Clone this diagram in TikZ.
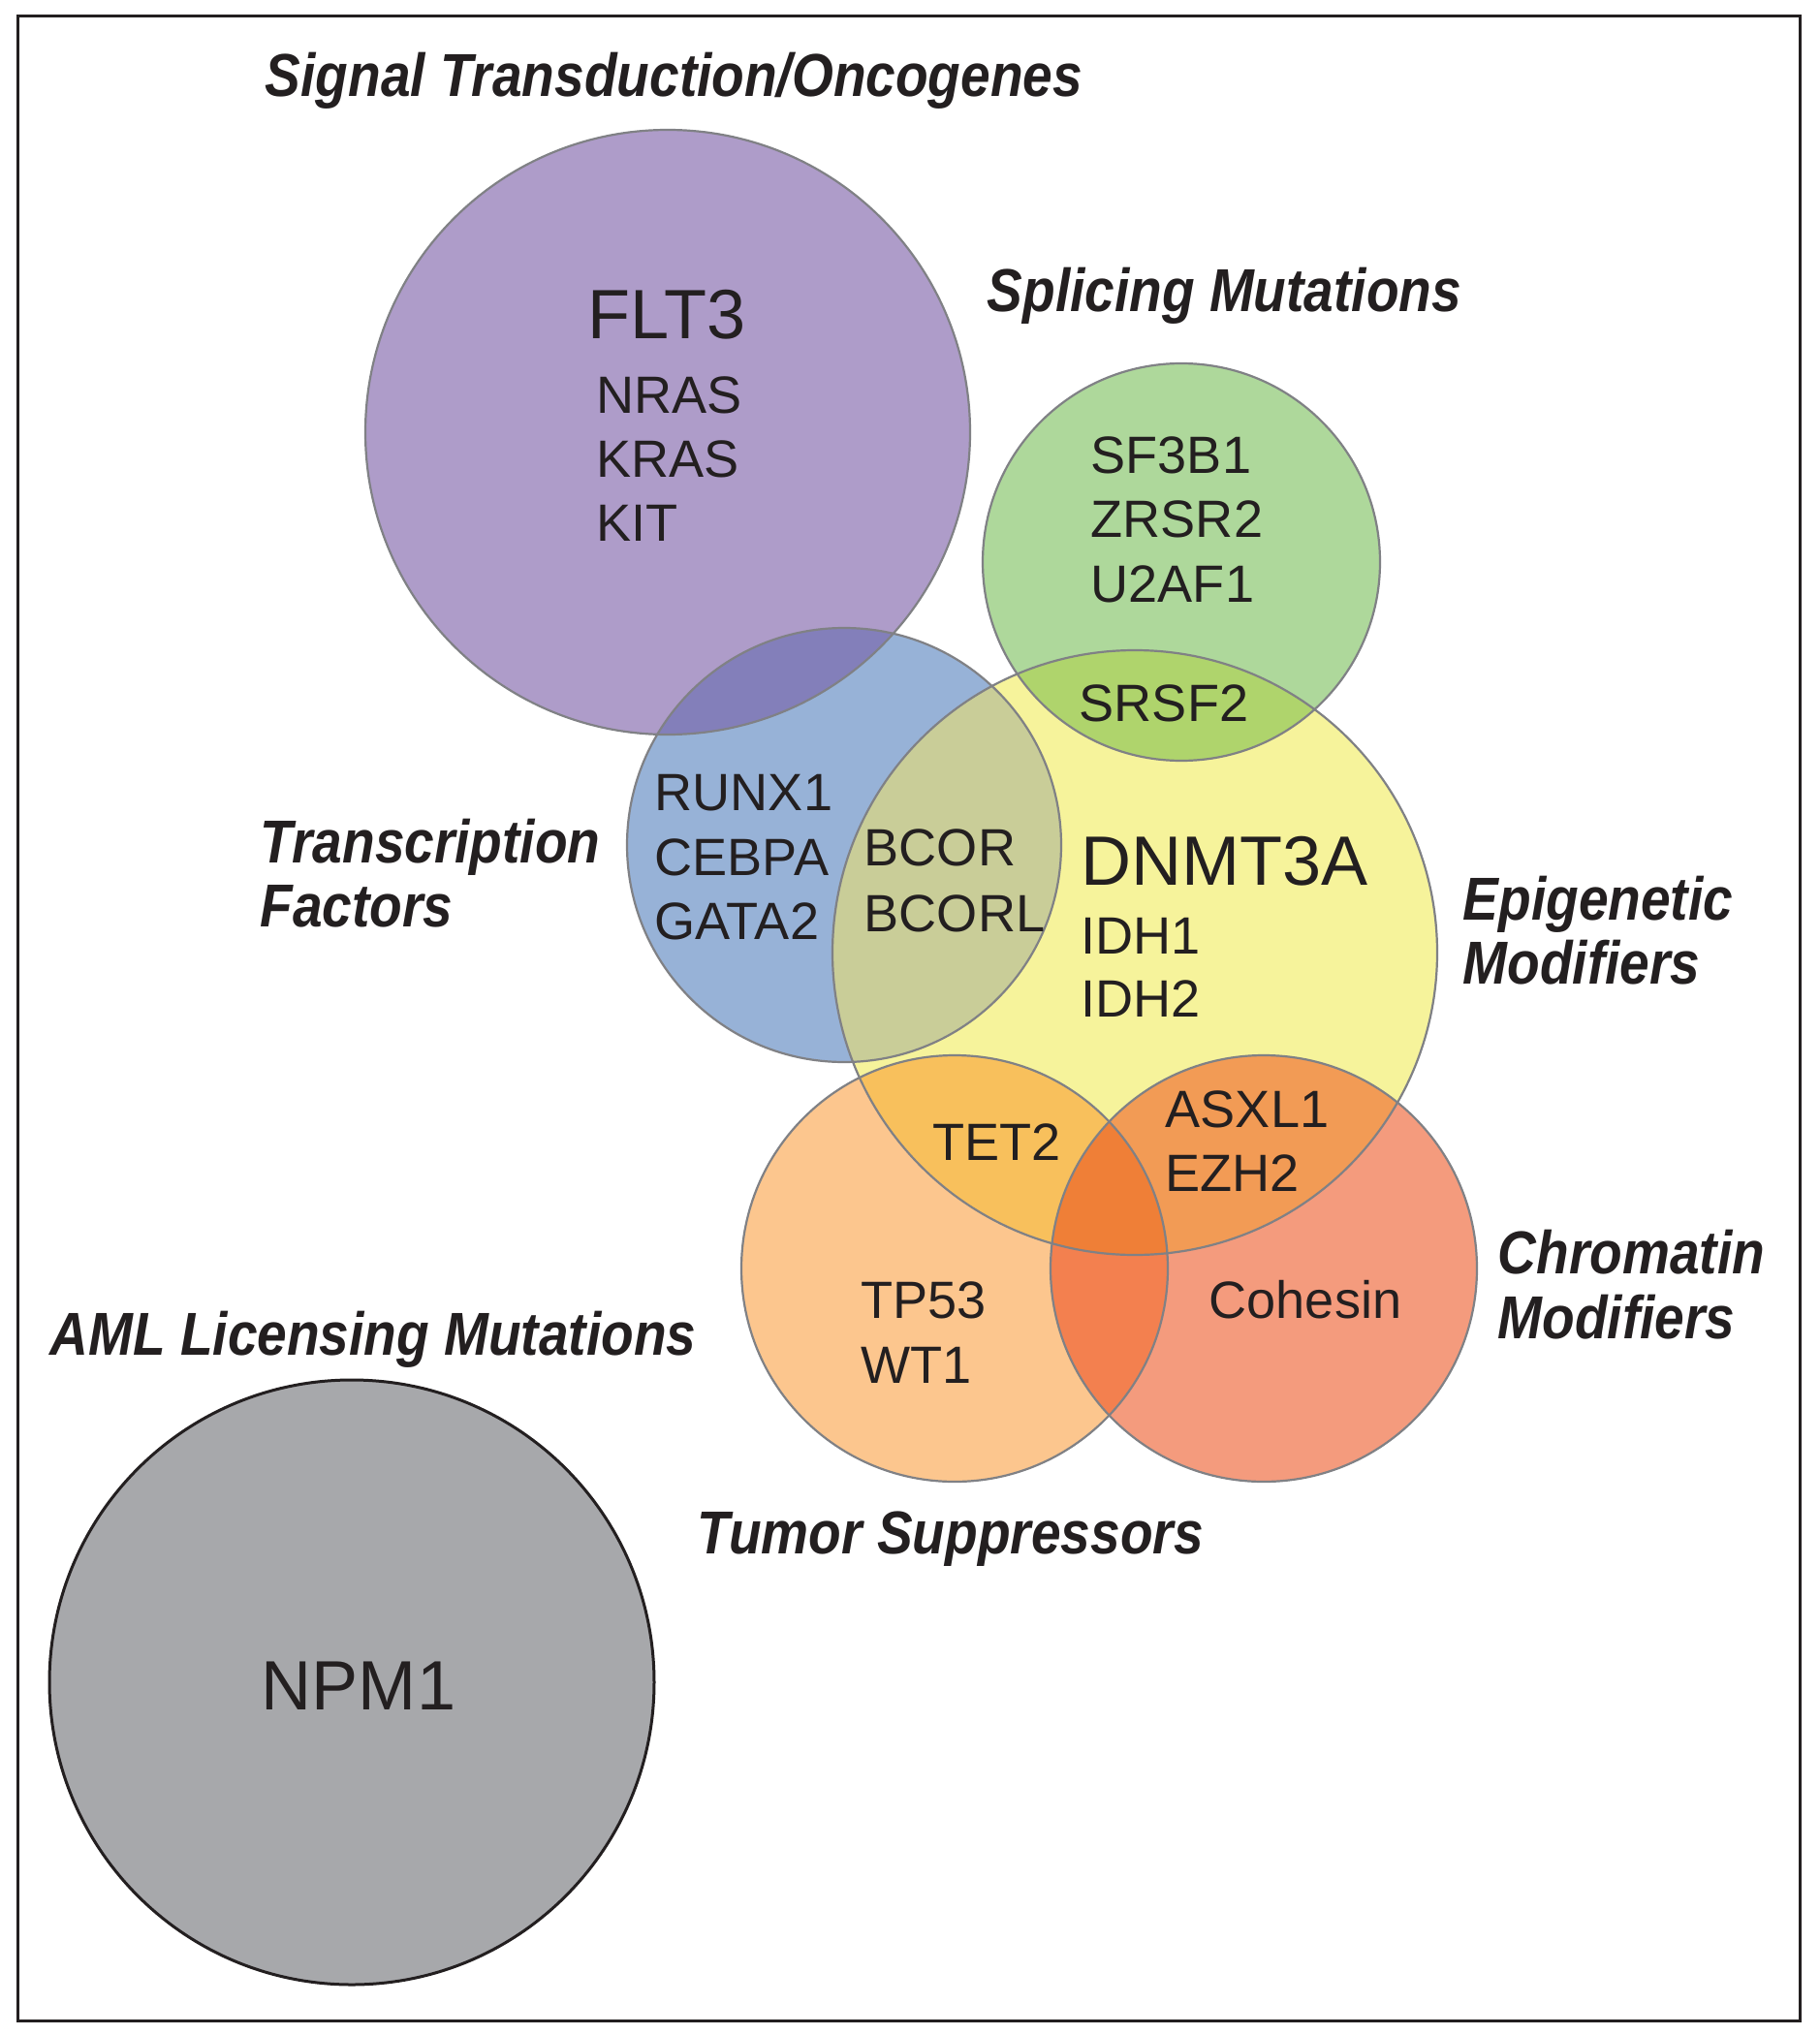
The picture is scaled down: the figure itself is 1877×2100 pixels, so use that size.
\documentclass[tikz,border=0pt]{standalone}
\usepackage{fontspec}
\setmainfont{Liberation Sans}
\newfontfamily\labfont[FakeStretch=0.88]{Liberation Sans}
\definecolor{cP}{HTML}{AE9CC9}
\definecolor{cB}{HTML}{97B2D7}
\definecolor{cPB}{HTML}{837FBA}
\definecolor{cY}{HTML}{F6F39B}
\definecolor{cBY}{HTML}{C9CD98}
\definecolor{cG}{HTML}{AED89B}
\definecolor{cGY}{HTML}{AFD46C}
\definecolor{cO}{HTML}{FCC68E}
\definecolor{cOY}{HTML}{F8C05C}
\definecolor{cR}{HTML}{F49B7D}
\definecolor{cRY}{HTML}{F29B55}
\definecolor{cOR}{HTML}{F3804F}
\definecolor{cORY}{HTML}{EF7F37}
\definecolor{cGray}{HTML}{A7A8AB}
\definecolor{ringgray}{HTML}{808185}
\definecolor{txt}{HTML}{231F20}
\begin{document}
\begin{tikzpicture}[x=0.1mm,y=-0.1mm,
  ring/.style={draw=ringgray,line width=0.22mm},
  gene/.style={anchor=base west,inner sep=0pt,text=txt,font=\fontsize{15.4pt}{18pt}\selectfont},
  biggene/.style={anchor=base west,inner sep=0pt,text=txt,font=\fontsize{20.5pt}{24pt}\selectfont},
  cat/.style={anchor=base west,inner sep=0pt,text=txt,font=\labfont\bfseries\itshape\fontsize{17.8pt}{20pt}\selectfont}]
\useasboundingbox (0,0) rectangle (1877,2100);
\draw[line width=0.3mm,txt] (18,17) rectangle (1857,2085);
% centres
\coordinate (P) at (689,446);
\coordinate (G) at (1219,580);
\coordinate (B) at (871,872);
\coordinate (Y) at (1171,983);
\coordinate (O) at (985,1309);
\coordinate (R) at (1304,1309);
\coordinate (N) at (363,1736);
% base fills
\fill[cP] (P) circle[radius=31.2mm];
\fill[cG] (G) circle[radius=20.5mm];
\fill[cB] (B) circle[radius=22.4mm];
\fill[cY] (Y) circle[radius=31.2mm];
\fill[cO] (O) circle[radius=22mm];
\fill[cR] (R) circle[radius=22mm];
\fill[cGray] (N) circle[radius=31.2mm];
% overlaps
\begin{scope}\clip (P) circle[radius=31.2mm]; \fill[cPB] (B) circle[radius=22.4mm];\end{scope}
\begin{scope}\clip (B) circle[radius=22.4mm]; \fill[cBY] (Y) circle[radius=31.2mm];\end{scope}
\begin{scope}\clip (G) circle[radius=20.5mm]; \fill[cGY] (Y) circle[radius=31.2mm];\end{scope}
\begin{scope}\clip (O) circle[radius=22mm]; \fill[cOY] (Y) circle[radius=31.2mm];\end{scope}
\begin{scope}\clip (R) circle[radius=22mm]; \fill[cRY] (Y) circle[radius=31.2mm];\end{scope}
\begin{scope}\clip (O) circle[radius=22mm]; \fill[cOR] (R) circle[radius=22mm];\end{scope}
\begin{scope}\clip (O) circle[radius=22mm]; \clip (R) circle[radius=22mm]; \fill[cORY] (Y) circle[radius=31.2mm];\end{scope}
% outlines
\draw[ring] (P) circle[radius=31.2mm];
\draw[ring] (G) circle[radius=20.5mm];
\draw[ring] (B) circle[radius=22.4mm];
\draw[ring] (Y) circle[radius=31.2mm];
\draw[ring] (O) circle[radius=22mm];
\draw[ring] (R) circle[radius=22mm];
\draw[txt,line width=0.3mm] (N) circle[radius=31.2mm];
% category labels
\node[cat] (tSig) at (273,100) {Signal Transduction/Oncogenes};
\node[cat] (tSpl) at (1018,322) {Splicing Mutations};
\node[cat] (tTF1) at (268,890) {Transcription};
\node[cat] (tTF2) at (268,956) {Factors};
\node[cat] (tEp1) at (1509,949) {Epigenetic};
\node[cat] (tEp2) at (1509,1015) {Modifiers};
\node[cat] (tCh1) at (1545,1314) {Chromatin};
\node[cat] (tCh2) at (1545,1381) {Modifiers};
\node[cat] (tAML) at (51,1398) {AML Licensing Mutations};
\node[cat] (tTum) at (719,1603) {Tumor Suppressors};
% genes
\node[biggene] (gFLT3) at (606,350) {FLT3};
\node[gene] (gNRAS) at (615,427) {NRAS};
\node[gene] (gKRAS) at (615,492) {KRAS};
\node[gene] (gKIT) at (615,558) {KIT};
\node[gene] (gSF3B1) at (1125,488) {SF3B1};
\node[gene] (gZRSR2) at (1125,554) {ZRSR2};
\node[gene] (gU2AF1) at (1125,621) {U2AF1};
\node[gene] (gSRSF2) at (1113,744) {SRSF2};
\node[gene] (gRUNX1) at (675,836) {RUNX1};
\node[gene] (gCEBPA) at (675,903) {CEBPA};
\node[gene] (gGATA2) at (675,969) {GATA2};
\node[gene] (gBCOR) at (891,893) {BCOR};
\node[gene] (gBCORL) at (891,961) {BCORL};
\node[biggene] (gDNMT3A) at (1115,913) {DNMT3A};
\node[gene] (gIDH1) at (1115,984) {IDH1};
\node[gene] (gIDH2) at (1115,1049) {IDH2};
\node[gene] (gTET2) at (962,1197) {TET2};
\node[gene] (gASXL1) at (1202,1163) {ASXL1};
\node[gene] (gEZH2) at (1202,1229) {EZH2};
\node[gene] (gTP53) at (888,1360) {TP53};
\node[gene] (gWT1) at (888,1427) {WT1};
\node[gene] (gCoh) at (1247,1360) {Cohesin};
\node[biggene,anchor=base] (gNPM1) at (370,1764) {NPM1};
\end{tikzpicture}
\end{document}
